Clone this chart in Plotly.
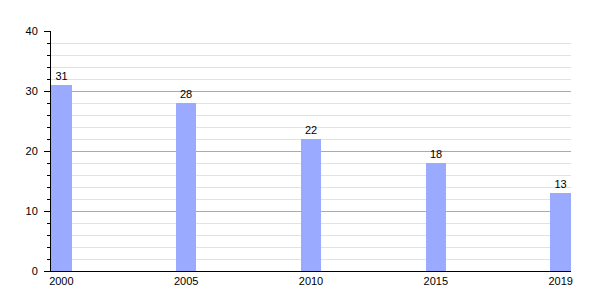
import plotly.graph_objects as go

years = ["2000", "2005", "2010", "2015", "2019"]
values = [31, 28, 22, 18, 13]
y_ticks = [0, 10, 20, 30, 40]

x_pos = list(range(len(years)))

fig = go.Figure()
fig.add_trace(go.Bar(
    x=x_pos, y=values, width=0.165,
    marker=dict(color="#99aaff", line=dict(width=0)),
    text=[str(v) for v in values], textposition="outside",
    textfont=dict(family="Liberation Sans, Arial", size=11, color="black"),
    cliponaxis=False,
))

fig.update_layout(
    width=600, height=300,
    margin=dict(l=51, r=29, t=31, b=29),
    plot_bgcolor="white", paper_bgcolor="white",
    showlegend=False,
    font=dict(family="Liberation Sans, Arial", size=11, color="black"),
    xaxis=dict(
        range=[-0.083, 4.083], tickvals=x_pos, ticktext=years,
        showgrid=False, zeroline=False, showline=True, linecolor="black",
        linewidth=1, ticks="", tickfont=dict(size=11), ticklabelstandoff=0,
    ),
    yaxis=dict(
        range=[0, 40], tickvals=y_ticks, showgrid=True, gridcolor="#aaaaaa",
        gridwidth=1, zeroline=False, showline=True, linecolor="black",
        linewidth=1, ticks="outside", ticklen=6, tickcolor="black",
        tickfont=dict(size=11), ticklabelstandoff=4,
        minor=dict(dtick=2, showgrid=True, gridcolor="#e2e2e2", ticks="outside",
                   ticklen=3, tickcolor="black"),
    ),
    bargap=0,
)

fig.write_html("out.html")
